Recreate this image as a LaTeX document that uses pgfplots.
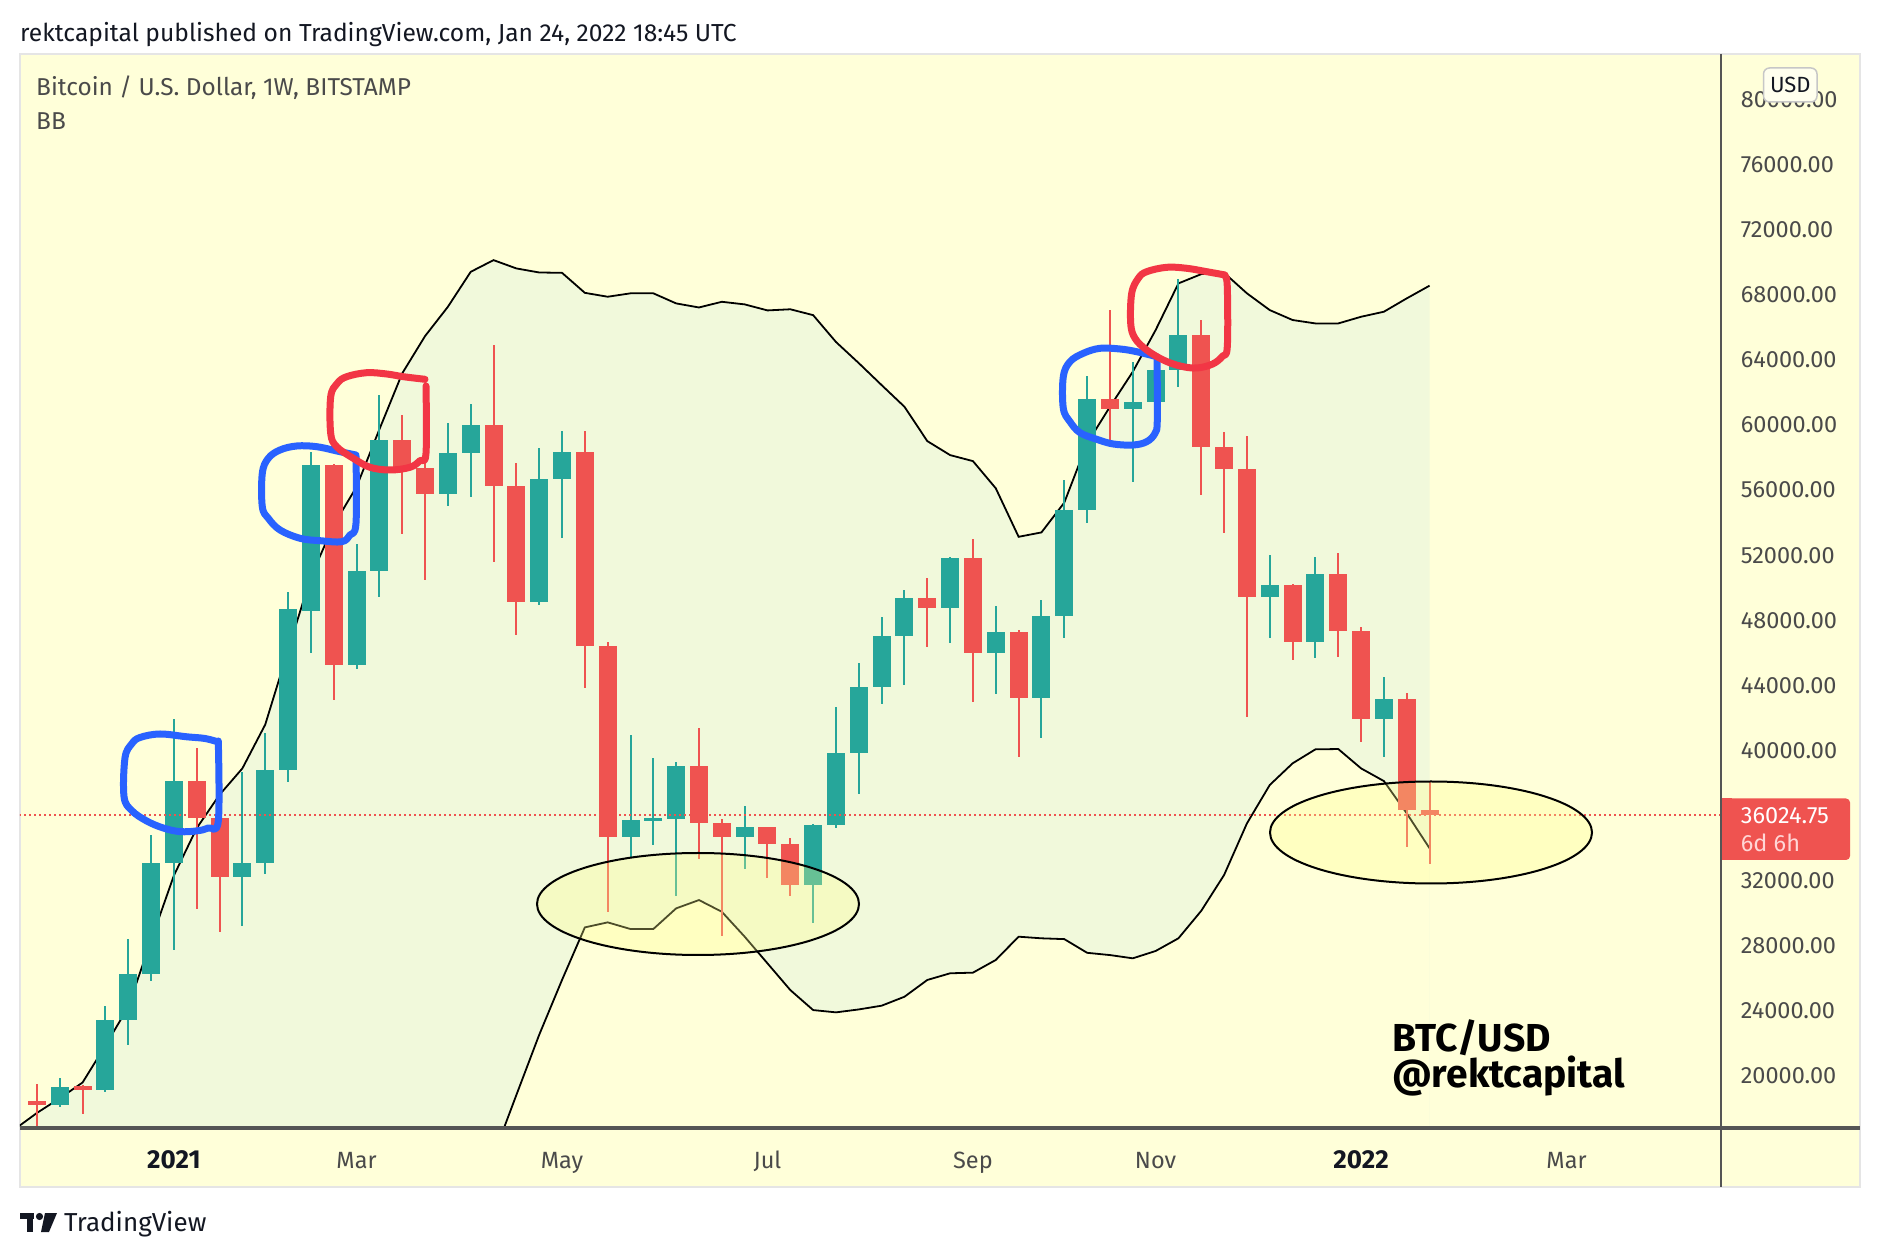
\documentclass[border=0pt]{standalone}
\usepackage{pgfplots}
\pgfplotsset{compat=1.18}
\usepackage{pgfplotstable}
\usepackage{fontspec}
\setmainfont{Fira Sans}

\definecolor{pane}{HTML}{FFFFD9}
\definecolor{bbfill}{HTML}{F1F9DB}
\definecolor{upc}{HTML}{26A69A}
\definecolor{dnc}{HTML}{EF5350}
\definecolor{tvblue}{HTML}{2962FF}
\definecolor{tvred}{HTML}{F23645}
\definecolor{txt}{HTML}{4A4A4A}
\definecolor{ink}{HTML}{131722}
\definecolor{axisgrey}{HTML}{555555}

% weekly bars, i = weeks from 4 Jan 2021
\pgfplotstableread{
i  up    lo
-7 16700 8600
-6 17730 8700
-5 18630 8800
-4 19600 8900
-3 21870 9000
-2 24240 8900
-1 28330 8500
0  32320 7900
1  35230 7000
2  37280 6200
3  38900 5500
4  41590 5000
5  46150 3800
6  50675 2500
7  53850 2600
8  56200 3000
9  59730 3900
10 63170 5600
11 65460 8200
12 67260 10400
13 69410 12800
14 70130 15100
15 69620 18830
16 69370 22530
17 69350 25900
18 68120 29130
19 67880 29440
20 68090 29030
21 68090 29030
22 67470 30300
23 67220 30810
24 67570 30090
25 67410 28560
26 67040 26920
27 67110 25280
28 66750 24050
29 65100 23910
30 63800 24090
31 62450 24320
32 61120 24870
33 59010 25900
34 58150 26310
35 57780 26350
36 56110 27130
37 53130 28560
38 53400 28460
39 55230 28410
40 58870 27570
41 61120 27430
42 63270 27230
43 65830 27680
44 68700 28460
45 69270 30150
46 69350 32350
47 68090 35520
48 67060 37880
49 66450 39210
50 66240 40070
51 66240 40090
52 66650 38900
53 66960 38120
54 67780 36140
55 68560 33990
}\bb

\pgfplotstableread{
i  o     h     l     c
-5 18200 19900 18100 19350
-3 19150 24280 19000 23450
-2 23450 28410 21900 26250
-1 26250 34780 25850 33100
0  33100 41950 27750 38150
3  32250 38670 29190 33110
4  33110 41050 32430 38830
5  38830 49720 38070 48690
6  48590 58350 45970 57540
8  45250 52680 45000 51020
9  51020 61840 49450 59070
12 55760 60140 55020 58250
13 58250 61290 55570 60000
16 49140 58580 48940 56680
17 56680 59630 53050 58320
20 34680 40960 33430 35720
21 35720 39550 34220 35790
22 35790 39300 31080 39030
25 34680 36610 32730 35270
28 31745 35500 29370 35440
29 35440 42656 35250 39835
30 39835 45360 37320 43900
31 43900 48210 42850 47055
32 47055 49850 44000 49350
34 48770 51900 46580 51800
36 46000 48870 43450 47260
38 43200 49240 40780 48260
39 48260 56620 46930 54770
40 54770 63010 53990 61570
42 60960 63880 56510 61390
43 61390 64300 59580 63370
44 63370 69000 62350 65525
48 49450 52010 46890 50150
50 46680 51870 45660 50840
53 41910 44490 39610 43140
}\up

\pgfplotstableread{
i  o     h     l     c
-6 18450 19490 16200 18200
-4 19350 19420 17640 19200
1  38150 40150 30270 35840
2  35840 37810 28870 32250
7  57540 57600 43100 45250
10 59070 60600 53300 57330
11 57330 58600 50470 55760
14 60000 64910 51600 56270
15 56270 57660 47090 49140
18 58320 59630 43840 46440
19 46440 46650 30070 34680
23 39030 41360 33340 35560
24 35560 35800 28620 34680
26 35270 35300 32140 34260
27 34260 34640 31080 31745
33 49350 50580 46370 48770
35 51800 52970 42960 46000
37 47260 47400 39610 43200
41 61570 67060 59070 60960
45 65525 66450 55700 58660
46 58660 59580 53380 57300
47 57300 59320 42050 49450
49 50150 50250 45530 46680
51 50840 52110 45720 47370
52 47370 47610 40540 41910
54 43140 43510 34050 36340
55 36340 38080 33020 36024.75
}\dn

\pgfplotsset{
  wick/.style={draw=none, mark=none, forget plot,
    error bars/.cd, y dir=both, y explicit, error mark=none,
    error bar style={line width=2pt, draw=#1}},
  body/.style={draw=none, mark=none, forget plot,
    error bars/.cd, y dir=both, y explicit, error mark=none,
    error bar style={line width=18pt, draw=#1}},
}
\newcommand\yr[1]{{\fontsize{26}{28}\selectfont\bfseries\color{ink}#1}}

\begin{document}
\begin{tikzpicture}
\fill[white] (-20pt,-128pt) rectangle (1860pt,1128pt);
\begin{scope}[x=1pt,y=-1pt,shift={(-20pt,1128pt)}]
  \fill[pane] (20,54) rectangle (1860,1187);
  \draw[black!10, line width=2pt] (20,54) rectangle (1860,1187);
\end{scope}

\begin{axis}[
    scale only axis,
    width=1700.6pt, height=1074pt,
    xmin=-6.741, xmax=67.75,
    ymin=16805, ymax=82795,
    axis line style={draw=none},
    major tick length=0pt,
    scaled ticks=false,
    tick label style={font=\fontsize{23.5}{27}\selectfont, text=txt},
    xtick={0,8,17,26,35,43,52,61},
    xticklabels={\yr{2021},Mar,May,Jul,Sep,Nov,\yr{2022},Mar},
    xticklabel style={anchor=base, inner sep=0pt, yshift=-41pt},
    ytick={20000,24000,28000,32000,40000,44000,48000,52000,56000,60000,64000,68000,72000,76000,80000},
    yticklabels={20000.00,24000.00,28000.00,32000.00,40000.00,44000.00,48000.00,52000.00,56000.00,60000.00,64000.00,68000.00,72000.00,76000.00,80000.00},
    yticklabel pos=right,
    yticklabel style={anchor=west, inner sep=0pt, xshift=20pt},
]
  % Bollinger band area: fill under the upper band, then restore the pane under the lower band
  \addplot[fill=bbfill, draw=none] table[x=i, y=up] {\bb} \closedcycle;
  \addplot[fill=pane, draw=none] table[x=i, y=lo] {\bb} \closedcycle;
  \addplot[black, line width=1.8pt, mark=none] table[x=i, y=up] {\bb};
  \addplot[black, line width=1.8pt, mark=none] table[x=i, y=lo] {\bb};

  % wicks
  \addplot[wick=upc] table[x=i, y expr={(\thisrow{h}+\thisrow{l})/2}, y error expr={(\thisrow{h}-\thisrow{l})/2}] {\up};
  \addplot[wick=dnc] table[x=i, y expr={(\thisrow{h}+\thisrow{l})/2}, y error expr={(\thisrow{h}-\thisrow{l})/2}] {\dn};
  % bodies
  \addplot[body=upc] table[x=i, y expr={(\thisrow{o}+\thisrow{c})/2}, y error expr={max(abs(\thisrow{c}-\thisrow{o})/2,110)}] {\up};
  \addplot[body=dnc] table[x=i, y expr={(\thisrow{o}+\thisrow{c})/2}, y error expr={max(abs(\thisrow{c}-\thisrow{o})/2,110)}] {\dn};

  % last price line
  \addplot[dnc, line width=1.6pt, dash pattern=on 1.6pt off 3.4pt] coordinates {(-7,36024.75) (68,36024.75)};
\end{axis}

\begin{scope}[x=1pt,y=-1pt,shift={(-20pt,1128pt)}]
  % scale lines
  \draw[axisgrey, line width=3pt] (20,1128) -- (1860,1128);
  \draw[axisgrey, line width=2.5pt] (1721,54) -- (1721,1187);

  % ellipses
  \filldraw[draw=black, line width=2pt, fill={rgb,255:red,255;green,255;blue,140}, fill opacity=0.3]
    (698,904) ellipse [x radius=161, y radius=51];
  \filldraw[draw=black, line width=2pt, fill={rgb,255:red,255;green,255;blue,140}, fill opacity=0.3]
    (1431,832.5) ellipse [x radius=161, y radius=51];

  % hand drawn marks
  \begin{scope}[line width=7pt, line cap=round, line join=round]
  \draw[tvblue] plot[smooth, tension=0.6] coordinates {(218.3,742) (205,738.5) (186.7,736.8) (160,734) (140,737.5) (131.7,743.9) (125,757.9) (124,796.5) (131.7,810.5) (146.7,821) (163.3,828) (180,831.6) (196.7,830.9) (208.3,828) (218.3,821) (218.3,741)};
  \draw[tvblue] plot[smooth, tension=0.6] coordinates {(356,455) (340,451.7) (316.7,446.7) (296.7,446) (280,450) (268.3,458.3) (262.3,473.3) (262.3,506.7) (268.3,518.3) (280,530) (300,538.3) (320,540.7) (341.7,541.7) (350,535) (356,523.3) (356,456)};
  \draw[tvred] plot[smooth, tension=0.6] coordinates {(425,379.3) (403.3,376.7) (386.7,374) (366.7,372.7) (346.7,376.7) (337.3,383.3) (330.7,396.7) (330.7,433.3) (336.7,446.7) (353.3,458.3) (370,467.3) (390,470) (410,467.3) (420,460.7) (426,453.3) (426,386)};
  \draw[tvblue] plot[smooth, tension=0.6] coordinates {(1156.7,356.7) (1136.7,351.7) (1120,349) (1100,348.3) (1083.3,353.3) (1070,361.7) (1063.3,376.7) (1063.3,408.3) (1070,421.7) (1080,432.7) (1096.7,439.3) (1113.3,444) (1133.3,445) (1146.7,441.7) (1155,433.3) (1157.3,420) (1157,360)};
  \draw[tvred] plot[smooth, tension=0.6] coordinates {(1225,275) (1206.7,271.7) (1186.7,268.3) (1166.7,267.3) (1146.7,271.7) (1138.3,278.3) (1131.7,293.3) (1130.7,323.3) (1135,338.3) (1146.7,350) (1163.3,360) (1180,366) (1196.7,368) (1212.7,364) (1222.7,356) (1227.3,346.7) (1227.3,286.7) (1225,276)};
  \end{scope}

  % texts
  \node[anchor=base west, inner sep=0pt, text=ink, font=\fontsize{24.6}{28}\selectfont] at (20,42) {rektcapital published on TradingView.com, Jan 24, 2022 18:45 UTC};
  \node[anchor=base west, inner sep=0pt, text=txt, font=\fontsize{24.4}{28}\selectfont] at (36,96) {Bitcoin / U.S. Dollar, 1W, BITSTAMP};
  \node[anchor=base west, inner sep=0pt, text=txt, font=\fontsize{24.4}{28}\selectfont] at (36,129.5) {BB};
  \node[anchor=base west, inner sep=0pt, text=black, font=\fontsize{39}{40}\selectfont\bfseries] at (1392,1051.7) {BTC/USD};
  \node[anchor=base west, inner sep=0pt, text=black, font=\fontsize{39}{40}\selectfont\bfseries] at (1392,1088) {@rektcapital};

  % USD button
  \filldraw[fill={rgb,255:red,255;green,255;blue,238}, draw=black!22, line width=1.5pt, rounded corners=6pt] (1763.5,68) rectangle (1817,102);
  \node[text=ink, font=\fontsize{22}{24}\selectfont, inner sep=0pt] at (1790.3,85) {USD};

  % last price label
  \fill[dnc, rounded corners=4pt] (1722,798.5) rectangle (1850,860);
  \fill[dnc] (1722,798.5) rectangle (1732,860);
  \node[anchor=west, inner sep=0pt, text=white, font=\fontsize{23.5}{27}\selectfont] at (1740.7,815.5) {36024.75};
  \node[anchor=west, inner sep=0pt, text={rgb,255:red,255;green,214;blue,214}, font=\fontsize{23.5}{27}\selectfont] at (1740.7,843) {6d 6h};

  % footer logo
  \fill[ink] (20,1213) rectangle (34,1219);
  \fill[ink] (27,1213) rectangle (33,1232);
  \fill[ink] (39.5,1216.5) circle (3.6);
  \fill[ink] (45,1213) -- (57,1213) -- (49,1232) -- (41,1232) -- cycle;
  \node[anchor=base west, inner sep=0pt, text=ink, font=\fontsize{26}{28}\selectfont] at (64,1231) {TradingView};
\end{scope}
\pgfresetboundingbox
\path[use as bounding box] (-20pt,-128pt) rectangle (1860pt,1128pt);
\end{tikzpicture}
\end{document}
